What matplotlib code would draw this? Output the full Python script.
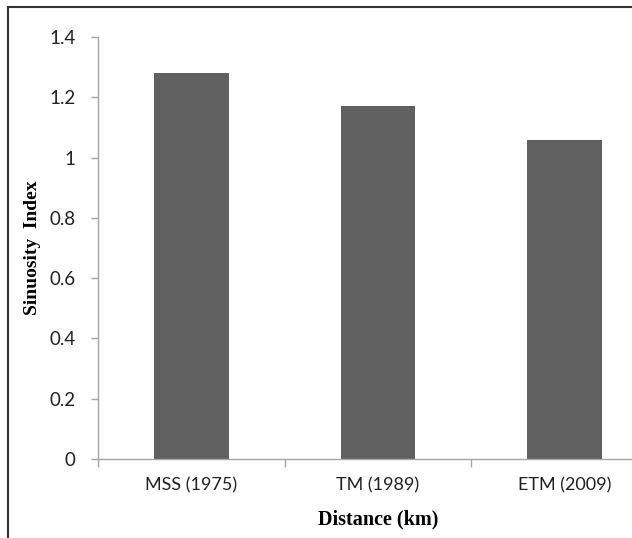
import matplotlib
matplotlib.use('Agg')
import matplotlib.pyplot as plt
from matplotlib.lines import Line2D

# Sinuosity index per sensor / year
SENSORS = ['MSS (1975)', 'TM (1989)', 'ETM (2009)']
SINUOSITY = [1.28, 1.17, 1.06]
Y_TICKS = [0, 0.2, 0.4, 0.6, 0.8, 1, 1.2, 1.4]
Y_TICK_LABELS = ['0', '0.2', '0.4', '0.6', '0.8', '1', '1.2', '1.4']

BAR_COLOR = '#606060'
AXIS_COLOR = '#a6a6a6'
TICK_FONT = 'Lato'
LABEL_FONT = 'Liberation Serif'


def main():
    fig = plt.figure(figsize=(6.32, 5.38), dpi=100)
    ax = fig.add_axes([0.155, 0.1468, 0.886, 0.7844])

    x = range(len(SENSORS))
    ax.bar(x, SINUOSITY, width=0.4, color=BAR_COLOR, edgecolor='none', zorder=2)

    ax.set_xlim(-0.5, len(SENSORS) - 0.5)
    ax.set_ylim(0, 1.4)

    ax.set_yticks(Y_TICKS)
    ax.set_yticklabels(Y_TICK_LABELS, fontfamily=TICK_FONT, fontsize=13.5, color='#222222')
    ax.set_xticks(list(x))
    ax.set_xticklabels(SENSORS, fontfamily=TICK_FONT, fontsize=13, color='#222222')
    # category boundary ticks like the spreadsheet style
    ax.set_xticks([i + 0.5 for i in range(-1, len(SENSORS))], minor=True)
    ax.tick_params(axis='x', which='major', length=0, pad=13)
    ax.tick_params(axis='x', which='minor', length=6, color=AXIS_COLOR, width=1)
    ax.tick_params(axis='y', length=5, color=AXIS_COLOR, width=1, pad=11)

    for side in ('top', 'right'):
        ax.spines[side].set_visible(False)
    for side in ('left', 'bottom'):
        ax.spines[side].set_color(AXIS_COLOR)
        ax.spines[side].set_linewidth(1)

    ax.set_xlabel('Distance (km)', fontfamily=LABEL_FONT, fontweight='bold',
                  fontsize=14.5, labelpad=12)
    ax.set_ylabel('Sinuosity  Index', fontfamily=LABEL_FONT, fontweight='bold',
                  fontsize=14, labelpad=6)

    # outer frame (top and left edges visible in the cropped figure)
    fig.add_artist(Line2D([8 / 632, 1.0], [1 - 7 / 538, 1 - 7 / 538],
                          transform=fig.transFigure, color='#333333', linewidth=1.5))
    fig.add_artist(Line2D([8 / 632, 8 / 632], [0.0, 1 - 7 / 538],
                          transform=fig.transFigure, color='#333333', linewidth=1.5))

    fig.savefig('out.png', dpi=100)


if __name__ == '__main__':
    main()
